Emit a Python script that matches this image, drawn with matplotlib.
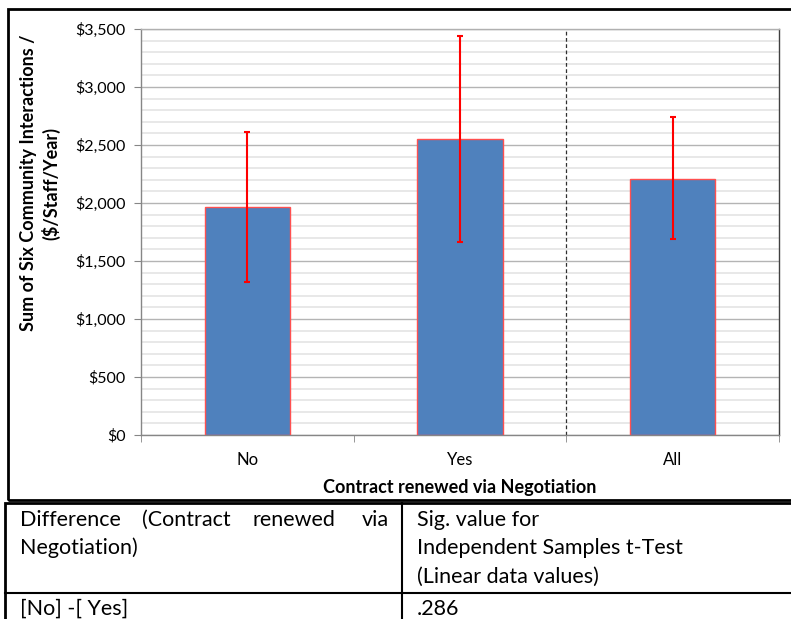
import matplotlib.pyplot as plt
from matplotlib.ticker import FuncFormatter, MultipleLocator
from matplotlib.patches import Rectangle
from matplotlib.lines import Line2D

plt.rcParams['font.family'] = ['Lato', 'DejaVu Sans']

# data
groups = ['No', 'Yes', 'All']
means = [1965, 2552, 2207]
upper = [2612, 3440, 2741]
lower = [1319, 1664, 1690]

err_lo = [m - l for m, l in zip(means, lower)]
err_hi = [u - m for u, m in zip(upper, means)]

W, H = 791, 619
fig = plt.figure(figsize=(W / 100, H / 100), dpi=100)

def fx(px):
    return px / W

def fy(py):
    return 1 - py / H

# chart frame
fig.patches.append(Rectangle((fx(8), fy(500)), fx(800), fy(9) - fy(500),
                             transform=fig.transFigure, fill=False,
                             edgecolor='black', linewidth=2))

ax = fig.add_axes([fx(141), fy(435), fx(779) - fx(141), fy(29) - fy(435)])
x = range(len(groups))
ax.bar(x, means, width=0.4, color='#4F81BD', edgecolor='#FF5050', linewidth=1, zorder=3)
ax.errorbar(x, means, yerr=[err_lo, err_hi], fmt='none', ecolor='#FF0000',
            elinewidth=1.5, capsize=2.3, capthick=1.5, zorder=4)

ax.set_xlim(-0.5, 2.5)
ax.set_ylim(0, 3500)
ax.yaxis.set_major_locator(MultipleLocator(500))
ax.yaxis.set_minor_locator(MultipleLocator(100))
ax.yaxis.set_major_formatter(FuncFormatter(lambda v, p: '${:,.0f}'.format(v)))
ax.grid(axis='y', which='major', color='#b4b4b4', linewidth=1, zorder=0)
ax.grid(axis='y', which='minor', color='#e4e4e4', linewidth=1.2, zorder=0)
ax.set_axisbelow(True)

ax.set_xticks(list(x))
ax.set_xticklabels(groups)
ax.set_xticks([-0.5, 0.5, 1.5, 2.5], minor=True)
ax.tick_params(axis='x', which='major', length=0, pad=12, labelsize=12)
ax.tick_params(axis='x', which='minor', length=5, color='#868686', direction='out')
ax.tick_params(axis='y', which='major', length=5, color='#868686', labelsize=11.5, pad=6)
ax.tick_params(axis='y', which='minor', length=0)

ax.axvline(1.5, color='#303030', linestyle=(0, (3, 2)), linewidth=0.9, zorder=2)

ax.spines['left'].set_color('#868686')
ax.spines['bottom'].set_color('#868686')
ax.spines['top'].set_color('#b0b0b0')
ax.spines['right'].set_color('#404040')
for s in ax.spines.values():
    s.set_linewidth(1)

fig.text(fx(40), fy(183), 'Sum of Six Community Interactions /\n($/Staff/Year)',
         rotation=90, ha='center', va='center', fontsize=13, fontweight='bold',
         multialignment='center', linespacing=1.25)
fig.text(fx(460), fy(487), 'Contract renewed via Negotiation', ha='center', va='center',
         fontsize=13, fontweight='bold')

# table below the chart
fig.patches.append(Rectangle((fx(5), fy(700)), fx(800), fy(503) - fy(700),
                             transform=fig.transFigure, fill=False,
                             edgecolor='black', linewidth=2))
fig.lines.append(Line2D([fx(5), fx(800)], [fy(593), fy(593)], transform=fig.transFigure,
                        color='black', linewidth=1.5))
fig.lines.append(Line2D([fx(402), fx(402)], [fy(503), fy(700)], transform=fig.transFigure,
                        color='black', linewidth=1.5))

tsize = 15.5
for word, px in [('Difference', 20), ('(Contract', 142), ('renewed', 252), ('via', 362)]:
    fig.text(fx(px), fy(520), word, ha='left', va='center', fontsize=tsize)
fig.text(fx(20), fy(548), 'Negotiation)', ha='left', va='center', fontsize=tsize)
fig.text(fx(417), fy(520), 'Sig. value for', ha='left', va='center', fontsize=tsize)
fig.text(fx(417), fy(548), 'Independent Samples t-Test', ha='left', va='center', fontsize=tsize)
fig.text(fx(417), fy(577), '(Linear data values)', ha='left', va='center', fontsize=tsize)
fig.text(fx(20), fy(609), '[No] -[ Yes]', ha='left', va='center', fontsize=tsize)
fig.text(fx(417), fy(609), '.286', ha='left', va='center', fontsize=tsize)

fig.savefig('out.png', dpi=100)
